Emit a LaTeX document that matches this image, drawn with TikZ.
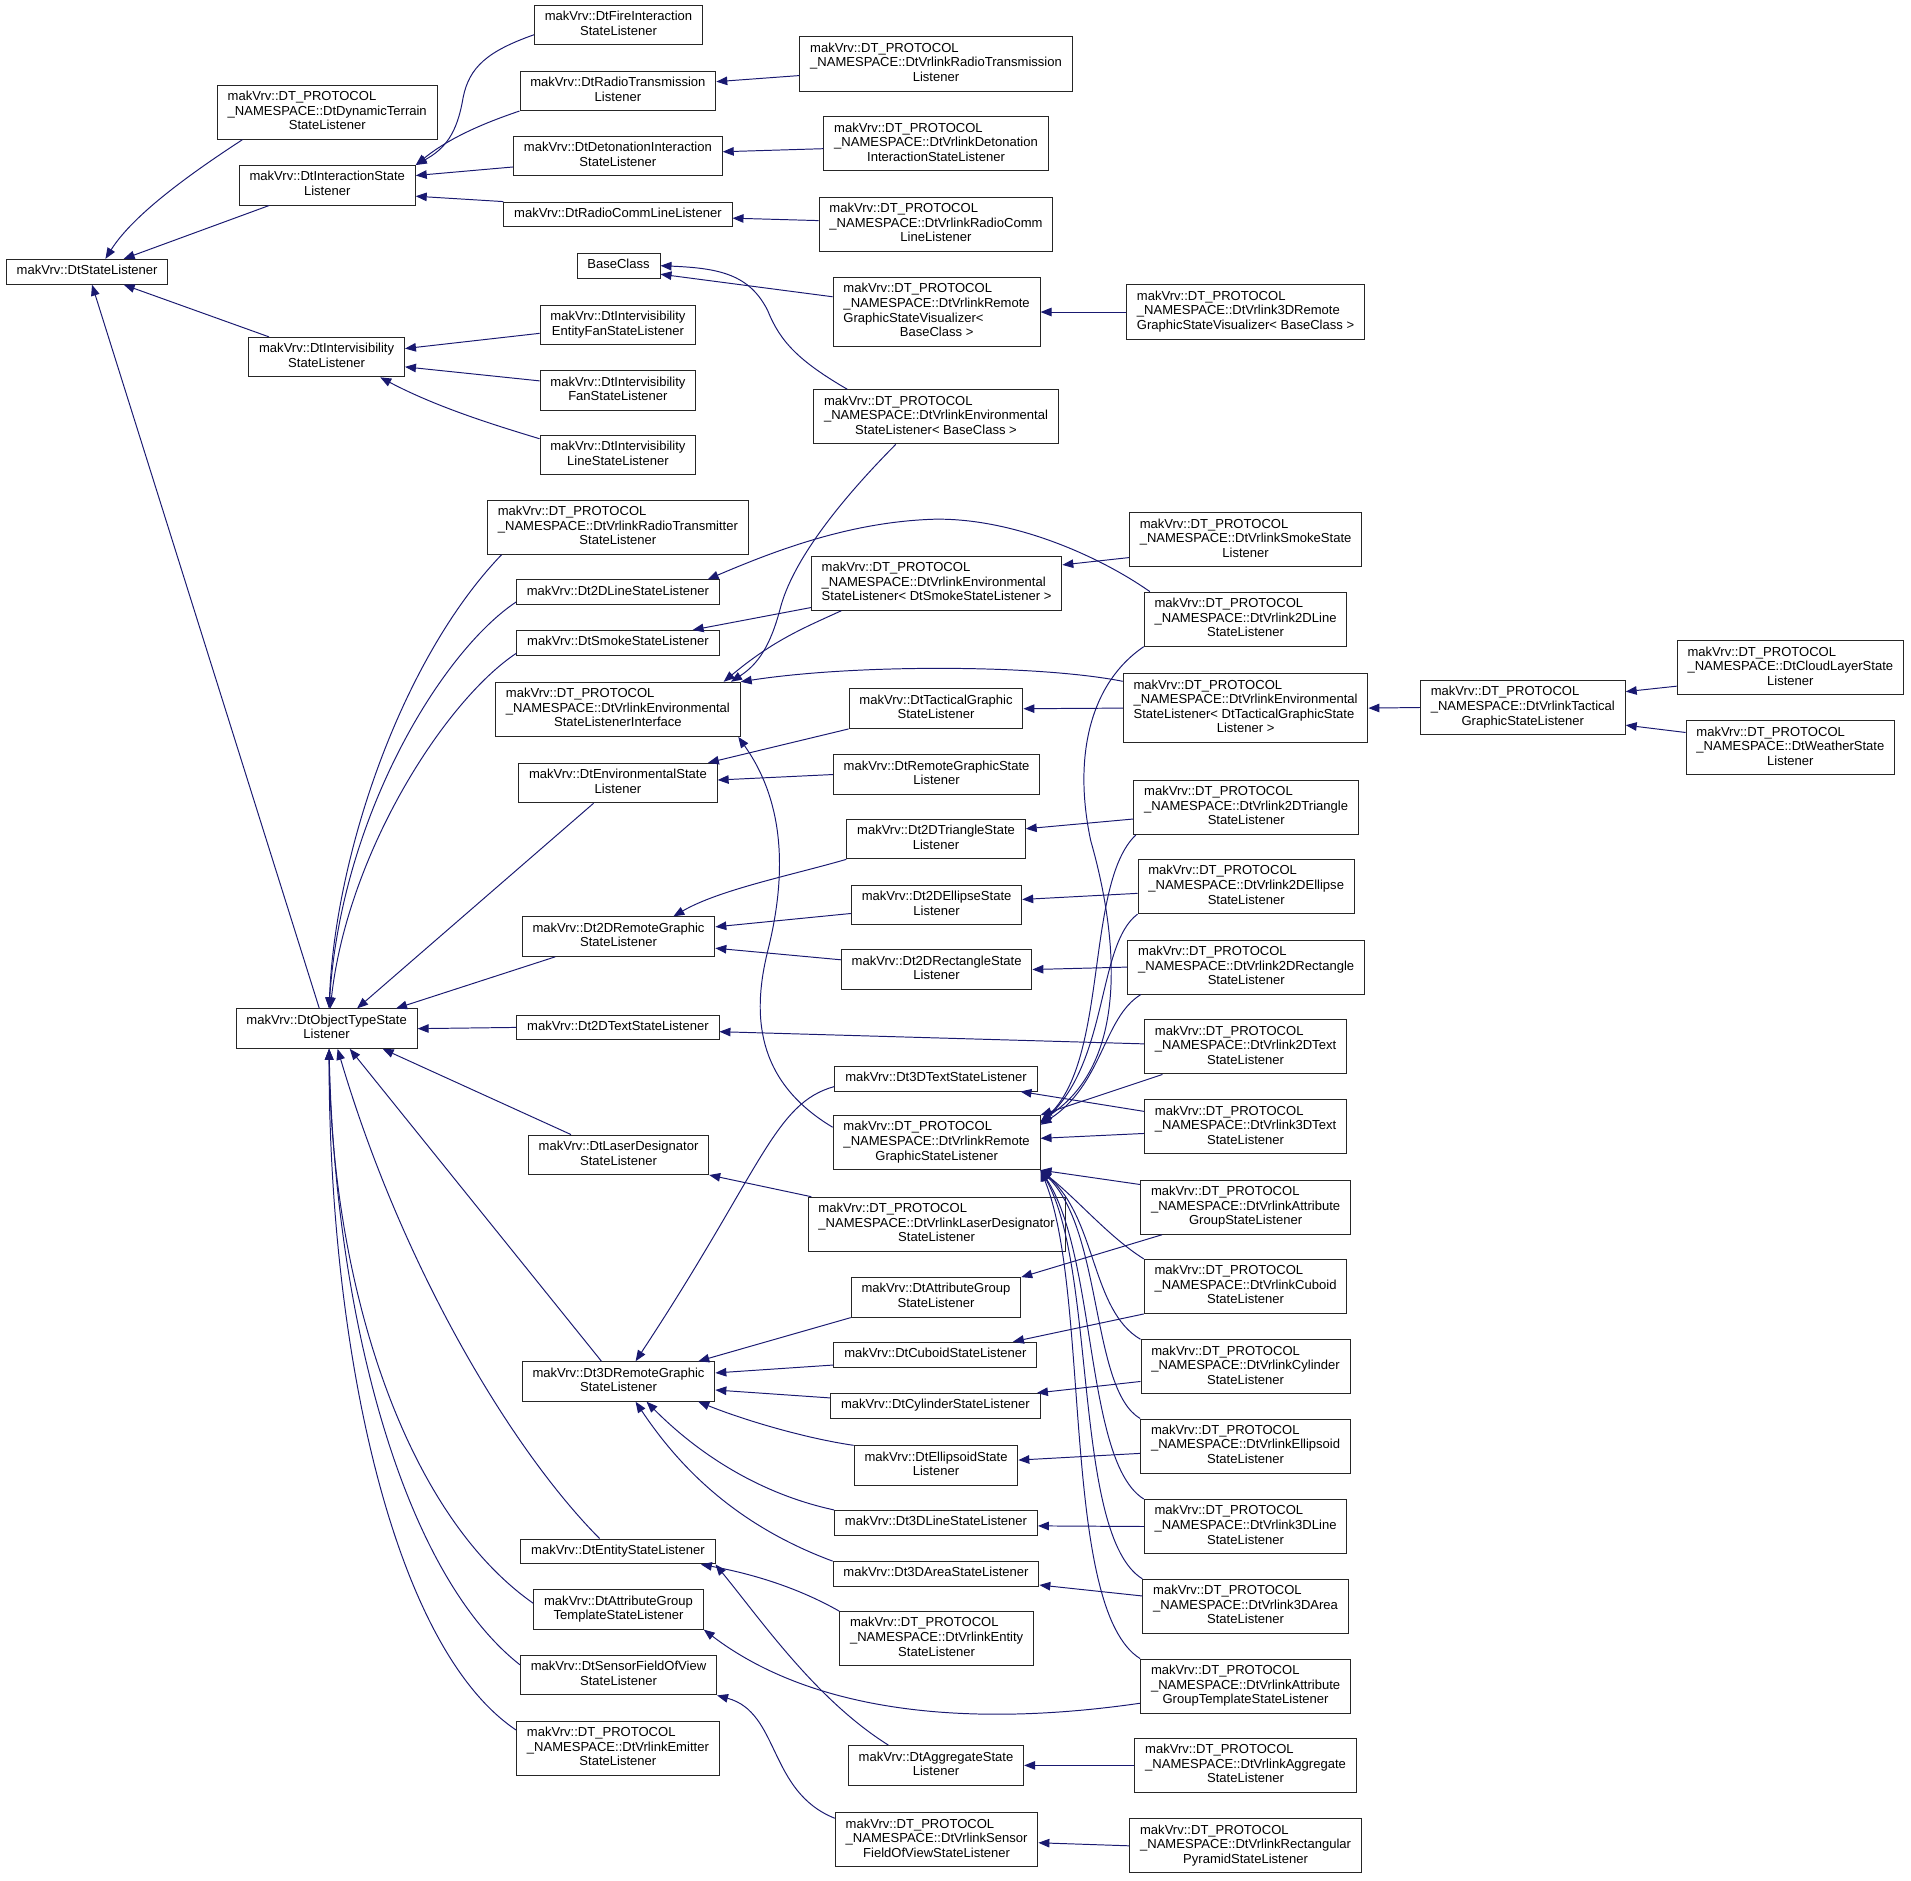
\documentclass[tikz,border=0pt]{standalone}
\usepackage{fontspec}
\setmainfont{Liberation Sans}
\usetikzlibrary{arrows.meta}
\definecolor{edgeblue}{HTML}{191970}
\newcommand{\dtns}{makVrv::DT\_PROTOCOL\\\_NAMESPACE::}
\newcommand{\lbl}[2]{\begin{tabular}{@{}l@{}}#1\\\multicolumn{1}{@{}c@{}}{#2}\end{tabular}}
\newcommand{\one}[1]{\begin{tabular}{@{}c@{}}#1\end{tabular}}
\begin{document}
\begin{tikzpicture}[x=1pt,y=-1pt,
klass/.style={draw=black!85,fill=white,line width=0.8pt,inner xsep=8.5pt,inner ysep=4.2pt,font=\fontsize{10.7}{12}\selectfont},
inh/.style={draw=edgeblue,line width=0.8pt,-{Triangle[length=9pt,width=7pt]}}]
\useasboundingbox (0,0) rectangle (1568,1543);
\node[klass] (stl) at (71.5,223) {\one{makVrv::DtStateListener}};
\node[klass] (dyn) at (268.5,92) {\lbl{\dtns DtDynamicTerrain}{StateListener}};
\node[klass] (inter) at (268.5,152) {\lbl{makVrv::DtInteractionState}{Listener}};
\node[klass] (fire) at (507.5,20.5) {\lbl{makVrv::DtFireInteraction}{StateListener}};
\node[klass] (radtx) at (507,74.5) {\lbl{makVrv::DtRadioTransmission}{Listener}};
\node[klass] (deto) at (507,128) {\lbl{makVrv::DtDetonationInteraction}{StateListener}};
\node[klass] (comm) at (507,176) {\one{makVrv::DtRadioCommLineListener}};
\node[klass] (vradtx) at (768,52.5) {\lbl{\dtns DtVrlinkRadioTransmission}{Listener}};
\node[klass] (vdeto) at (768,118) {\lbl{\dtns DtVrlinkDetonation}{InteractionStateListener}};
\node[klass] (vcomm) at (768,184) {\lbl{\dtns DtVrlinkRadioComm}{LineListener}};
\node[klass] (base) at (507.5,218) {\one{BaseClass}};
\node[klass] (vvis) at (768.5,256) {\lbl{\dtns DtVrlinkRemote\\GraphicStateVisualizer\textless}{BaseClass \textgreater}};
\node[klass] (v3dvis) at (1022,256) {\lbl{\dtns DtVrlink3DRemote}{GraphicStateVisualizer\textless{} BaseClass \textgreater}};
\node[klass] (venvb) at (768,342) {\lbl{\dtns DtVrlinkEnvironmental}{StateListener\textless{} BaseClass \textgreater}};
\node[klass] (ivis) at (268,293) {\lbl{makVrv::DtIntervisibility}{StateListener}};
\node[klass] (ivef) at (507,266.5) {\lbl{makVrv::DtIntervisibility}{EntityFanStateListener}};
\node[klass] (ivfan) at (507,320.5) {\lbl{makVrv::DtIntervisibility}{FanStateListener}};
\node[klass] (ivline) at (507,373.5) {\lbl{makVrv::DtIntervisibility}{LineStateListener}};
\node[klass] (vtxr) at (507,432.5) {\lbl{\dtns DtVrlinkRadioTransmitter}{StateListener}};
\node[klass] (l2d) at (507,486) {\one{makVrv::Dt2DLineStateListener}};
\node[klass] (smoke) at (507,527.5) {\one{makVrv::DtSmokeStateListener}};
\node[klass] (venvi) at (507,582) {\lbl{\dtns DtVrlinkEnvironmental}{StateListenerInterface}};
\node[klass] (env) at (507,642.5) {\lbl{makVrv::DtEnvironmentalState}{Listener}};
\node[klass] (vsmoke) at (1022,443) {\lbl{\dtns DtVrlinkSmokeState}{Listener}};
\node[klass] (venvs) at (768.5,478.5) {\lbl{\dtns DtVrlinkEnvironmental}{StateListener\textless{} DtSmokeStateListener \textgreater}};
\node[klass] (vl2d) at (1022,508) {\lbl{\dtns DtVrlink2DLine}{StateListener}};
\node[klass] (tact) at (768,581.5) {\lbl{makVrv::DtTacticalGraphic}{StateListener}};
\node[klass] (venvt) at (1022,581) {\lbl{\dtns DtVrlinkEnvironmental\\StateListener\textless{} DtTacticalGraphicState}{Listener \textgreater}};
\node[klass] (vtact) at (1249.5,580.5) {\lbl{\dtns DtVrlinkTactical}{GraphicStateListener}};
\node[klass] (cloud) at (1469,548) {\lbl{\dtns DtCloudLayerState}{Listener}};
\node[klass] (weather) at (1469,613.5) {\lbl{\dtns DtWeatherState}{Listener}};
\node[klass] (rgs) at (768.5,635.5) {\lbl{makVrv::DtRemoteGraphicState}{Listener}};
\node[klass] (tri) at (768,688.5) {\lbl{makVrv::Dt2DTriangleState}{Listener}};
\node[klass] (vtri) at (1022.5,662.5) {\lbl{\dtns DtVrlink2DTriangle}{StateListener}};
\node[klass] (ell) at (768.5,742.5) {\lbl{makVrv::Dt2DEllipseState}{Listener}};
\node[klass] (vell) at (1022.5,727.5) {\lbl{\dtns DtVrlink2DEllipse}{StateListener}};
\node[klass] (r2d) at (507.5,768.5) {\lbl{makVrv::Dt2DRemoteGraphic}{StateListener}};
\node[klass] (rect) at (768.5,795.5) {\lbl{makVrv::Dt2DRectangleState}{Listener}};
\node[klass] (vrect) at (1022.5,793.5) {\lbl{\dtns DtVrlink2DRectangle}{StateListener}};
\node[klass] (obj) at (268,844) {\lbl{makVrv::DtObjectTypeState}{Listener}};
\node[klass] (t2d) at (507,843) {\one{makVrv::Dt2DTextStateListener}};
\node[klass] (vt2d) at (1022,859) {\lbl{\dtns DtVrlink2DText}{StateListener}};
\node[klass] (t3d) at (768,885) {\one{makVrv::Dt3DTextStateListener}};
\node[klass] (vrgs) at (768.5,937.5) {\lbl{\dtns DtVrlinkRemote}{GraphicStateListener}};
\node[klass] (vt3d) at (1022,924.5) {\lbl{\dtns DtVrlink3DText}{StateListener}};
\node[klass] (laser) at (507.5,947.5) {\lbl{makVrv::DtLaserDesignator}{StateListener}};
\node[klass] (vlaser) at (768.5,1004.5) {\lbl{\dtns DtVrlinkLaserDesignator}{StateListener}};
\node[klass] (vattr) at (1022,990.5) {\lbl{\dtns DtVrlinkAttribute}{GroupStateListener}};
\node[klass] (attr) at (768,1064.5) {\lbl{makVrv::DtAttributeGroup}{StateListener}};
\node[klass] (vcub) at (1022,1055.5) {\lbl{\dtns DtVrlinkCuboid}{StateListener}};
\node[klass] (cub) at (767.5,1111.5) {\one{makVrv::DtCuboidStateListener}};
\node[klass] (r3d) at (507.5,1133.5) {\lbl{makVrv::Dt3DRemoteGraphic}{StateListener}};
\node[klass] (vcyl) at (1022,1121.5) {\lbl{\dtns DtVrlinkCylinder}{StateListener}};
\node[klass] (cyl) at (767.5,1153.5) {\one{makVrv::DtCylinderStateListener}};
\node[klass] (elps) at (768,1202.5) {\lbl{makVrv::DtEllipsoidState}{Listener}};
\node[klass] (velps) at (1022,1186.5) {\lbl{\dtns DtVrlinkEllipsoid}{StateListener}};
\node[klass] (l3d) at (768,1249.5) {\one{makVrv::Dt3DLineStateListener}};
\node[klass] (vl3d) at (1022,1252.5) {\lbl{\dtns DtVrlink3DLine}{StateListener}};
\node[klass] (ent) at (507,1273) {\one{makVrv::DtEntityStateListener}};
\node[klass] (a3d) at (768,1291.5) {\one{makVrv::Dt3DAreaStateListener}};
\node[klass] (va3d) at (1022,1318) {\lbl{\dtns DtVrlink3DArea}{StateListener}};
\node[klass] (tmpl) at (507.5,1320.5) {\lbl{makVrv::DtAttributeGroup}{TemplateStateListener}};
\node[klass] (vent) at (768.5,1344.5) {\lbl{\dtns DtVrlinkEntity}{StateListener}};
\node[klass] (sfov) at (507.5,1374.5) {\lbl{makVrv::DtSensorFieldOfView}{StateListener}};
\node[klass] (vtmpl) at (1022,1383.5) {\lbl{\dtns DtVrlinkAttribute}{GroupTemplateStateListener}};
\node[klass] (vemit) at (507,1434.5) {\lbl{\dtns DtVrlinkEmitter}{StateListener}};
\node[klass] (aggr) at (768,1448.5) {\lbl{makVrv::DtAggregateState}{Listener}};
\node[klass] (vaggr) at (1022,1448.5) {\lbl{\dtns DtVrlinkAggregate}{StateListener}};
\node[klass] (vsfov) at (768.5,1509.5) {\lbl{\dtns DtVrlinkSensor}{FieldOfViewStateListener}};
\node[klass] (vpyr) at (1022,1514.5) {\lbl{\dtns DtVrlinkRectangular}{PyramidStateListener}};
\draw[inh] ([xshift=21pt]dyn.south west) .. controls (160,140) and (110,175) .. ([xshift=15pt]stl.north);
\draw[inh] ([xshift=25pt]inter.south west) -- ([xshift=30pt]stl.north);
\draw[inh] ([xshift=17pt]ivis.north west) -- ([xshift=30pt]stl.south);
\draw[inh] ([xshift=-6pt]obj.north) -- ([xshift=4pt]stl.south);
\draw[inh] ([yshift=-8pt]fire.west) .. controls (400,42) and (385,55) .. (380,80) .. controls (375,110) and (365,122) .. (inter.north east);
\draw[inh] (radtx.south west) .. controls (400,100) and (370,112) .. (inter.north east);
\draw[inh] ([yshift=-9pt]deto.west) -- ([yshift=8pt]inter.east);
\draw[inh] (comm.north west) -- ([yshift=-9pt]inter.east);
\draw[inh] ([yshift=-9.5pt]vradtx.west) -- ([yshift=7.5pt]radtx.east);
\draw[inh] ([yshift=-4pt]vdeto.west) -- ([yshift=3.5pt]deto.east);
\draw[inh] ([yshift=3pt]vcomm.west) -- ([yshift=-3pt]comm.east);
\draw[inh] ([yshift=12.5pt]vvis.west) -- ([yshift=-7pt]base.east);
\draw[inh] ([xshift=28pt]venvb.north west) .. controls (655,296) and (640,280) .. (630,255) .. controls (615,225) and (590,220) .. (base.east);
\draw[inh] (v3dvis.west) -- (vvis.east);
\draw[inh] ([yshift=-7pt]ivef.west) -- ([yshift=7pt]ivis.east);
\draw[inh] ([yshift=8pt]ivfan.west) -- ([yshift=-8pt]ivis.east);
\draw[inh] ([yshift=13.5pt]ivline.west) .. controls (410,350) and (360,335) .. ([xshift=44pt]ivis.south);
\draw[inh] ([xshift=12pt]vtxr.south west) .. controls (330,540) and (275,700) .. ([xshift=2pt]obj.north);
\draw[inh] ([yshift=-8pt]l2d.west) .. controls (362,535) and (280,670) .. ([xshift=2pt]obj.north);
\draw[inh] ([yshift=-8.5pt]smoke.west) .. controls (365,575) and (285,700) .. ([xshift=3pt]obj.north);
\draw[inh] ([xshift=-20pt]env.south) -- ([xshift=25pt]obj.north);
\draw[inh] ([xshift=-52pt]r2d.south) -- ([xshift=57pt]obj.north);
\draw[inh] (t2d.west) -- (obj.east);
\draw[inh] ([xshift=-39pt]laser.north) -- ([xshift=46pt]obj.south);
\draw[inh] ([xshift=-14pt]r3d.north) -- ([xshift=19pt]obj.south);
\draw[inh] ([xshift=-15pt]ent.north) .. controls (420,1190) and (330,1040) .. ([xshift=9pt]obj.south);
\draw[inh] ([yshift=5pt]tmpl.west) .. controls (330,1240) and (272,1050) .. ([xshift=2pt]obj.south);
\draw[inh] ([yshift=8.5pt]sfov.west) .. controls (330,1290) and (275,1080) .. ([xshift=2pt]obj.south);
\draw[inh] ([yshift=15pt]vemit.west) .. controls (320,1350) and (270,1100) .. ([xshift=2pt]obj.south);
\draw[inh] ([xshift=5pt]vl2d.north west) .. controls (900,455) and (830,425) .. (767,426) .. controls (700,428) and (640,450) .. ([xshift=-10pt]l2d.north east);
\draw[inh] ([yshift=-20pt]venvs.west) -- ([xshift=-22pt]smoke.north east);
\draw[inh] ([xshift=25pt]venvs.south west) .. controls (660,515) and (635,525) .. ([xshift=-14pt]venvi.north east);
\draw[inh] ([xshift=-33pt]venvb.south) .. controls (690,410) and (650,460) .. (640,500) .. controls (632,530) and (622,545) .. ([xshift=-8pt]venvi.north east);
\draw[inh] ([yshift=22pt]venvt.west) .. controls (850,545) and (700,545) .. (venvi.north east);
\draw[inh] ([yshift=-14.5pt]vsmoke.west) -- ([yshift=15pt]venvs.east);
\draw[inh] (venvt.west) -- (tact.east);
\draw[inh] (vtact.west) -- (venvt.east);
\draw[inh] ([yshift=-15pt]cloud.west) -- ([yshift=13pt]vtact.east);
\draw[inh] ([yshift=12.5pt]weather.west) -- ([yshift=-14.5pt]vtact.east);
\draw[inh] (tact.south west) -- ([xshift=-8pt]env.north east);
\draw[inh] (rgs.west) -- ([yshift=2.5pt]env.east);
\draw[inh] (tri.south west) .. controls (650,718) and (590,730) .. ([xshift=45pt]r2d.north);
\draw[inh] ([yshift=-7pt]ell.west) -- ([yshift=8pt]r2d.east);
\draw[inh] ([yshift=8pt]rect.west) -- ([yshift=-9.5pt]r2d.east);
\draw[inh] ([yshift=-9.5pt]vtri.west) -- ([yshift=8.5pt]tri.east);
\draw[inh] ([yshift=-5.5pt]vell.west) -- ([yshift=4.5pt]ell.east);
\draw[inh] (vrect.west) -- (rect.east);
\draw[inh] ([yshift=2.5pt]vt2d.west) -- ([yshift=-3.5pt]t2d.east);
\draw[inh] ([yshift=-10pt]vt3d.north west) -- ([xshift=-14pt]t3d.south east);
\draw[inh] ([yshift=-6.5pt]t3d.west) .. controls (635,905) and (625,960) .. ([xshift=14pt]r3d.north);
\draw[inh] ([yshift=-10pt]vrgs.north west) .. controls (625,890) and (615,840) .. (630,780) .. controls (645,720) and (645,660) .. ([xshift=-2pt]venvi.south east);
\draw[inh] ([xshift=3pt]vlaser.north west) -- (laser.south east);
\draw[inh] ([xshift=15pt]vt2d.south west) -- (vrgs.north east);
\draw[inh] (vl2d.south west) .. controls (895,560) and (880,620) .. (895,690) .. controls (915,760) and (930,870) .. ([yshift=-5pt]vrgs.north east);
\draw[inh] ([xshift=2pt]vtri.south west) .. controls (890,725) and (910,870) .. ([yshift=-6pt]vrgs.north east);
\draw[inh] (vell.south west) .. controls (900,775) and (910,870) .. ([yshift=-7pt]vrgs.north east);
\draw[inh] ([xshift=11pt]vrect.south west) .. controls (905,835) and (905,890) .. ([yshift=-8pt]vrgs.north east);
\draw[inh] ([yshift=-5.5pt]vt3d.west) -- ([yshift=3.5pt]vrgs.east);
\draw[inh] ([yshift=-4pt]vattr.north west) -- (vrgs.south east);
\draw[inh] (vcub.north west) .. controls (910,1015) and (885,985) .. (vrgs.south east);
\draw[inh] (vcyl.north west) .. controls (895,1075) and (900,1000) .. (vrgs.south east);
\draw[inh] (velps.north west) .. controls (895,1140) and (905,1010) .. (vrgs.south east);
\draw[inh] (vl3d.north west) .. controls (890,1200) and (900,1030) .. (vrgs.south east);
\draw[inh] (va3d.north west) .. controls (880,1260) and (900,1040) .. (vrgs.south east);
\draw[inh] (vtmpl.north west) .. controls (870,1320) and (895,1060) .. (vrgs.south east);
\draw[inh] ([xshift=18pt]vattr.south west) -- (attr.north east);
\draw[inh] (vcub.south west) -- ([xshift=-20pt]cub.north east);
\draw[inh] ([yshift=-12pt]vcyl.west) -- ([xshift=-3pt]cyl.north east);
\draw[inh] ([yshift=-6pt]velps.west) -- ([yshift=4.5pt]elps.east);
\draw[inh] (vl3d.west) -- ([yshift=-2.5pt]l3d.east);
\draw[inh] ([yshift=8.5pt]va3d.west) -- ([yshift=-9pt]a3d.east);
\draw[inh] (attr.south west) -- ([xshift=-14pt]r3d.north east);
\draw[inh] ([yshift=-8.5pt]cub.west) -- ([yshift=7pt]r3d.east);
\draw[inh] ([yshift=6.5pt]cyl.west) -- ([yshift=-7pt]r3d.east);
\draw[inh] (elps.north west) .. controls (660,1180) and (610,1165) .. ([xshift=-14pt]r3d.south east);
\draw[inh] (l3d.north west) .. controls (620,1225) and (570,1190) .. ([xshift=23pt]r3d.south);
\draw[inh] (a3d.north west) .. controls (600,1250) and (555,1200) .. ([xshift=14pt]r3d.south);
\draw[inh] (vent.north west) .. controls (650,1300) and (610,1290) .. ([xshift=-12pt]ent.south east);
\draw[inh] ([xshift=-39pt]aggr.north) .. controls (670,1395) and (625,1330) .. (ent.south east);
\draw[inh] (vaggr.west) -- (aggr.east);
\draw[inh] ([yshift=-14pt]vtmpl.west) .. controls (780,1420) and (660,1400) .. (tmpl.south east);
\draw[inh] ([yshift=-5pt]vsfov.north west) .. controls (630,1470) and (640,1405) .. (sfov.south east);
\draw[inh] (vpyr.west) -- ([yshift=-2.5pt]vsfov.east);
\end{tikzpicture}
\end{document}
